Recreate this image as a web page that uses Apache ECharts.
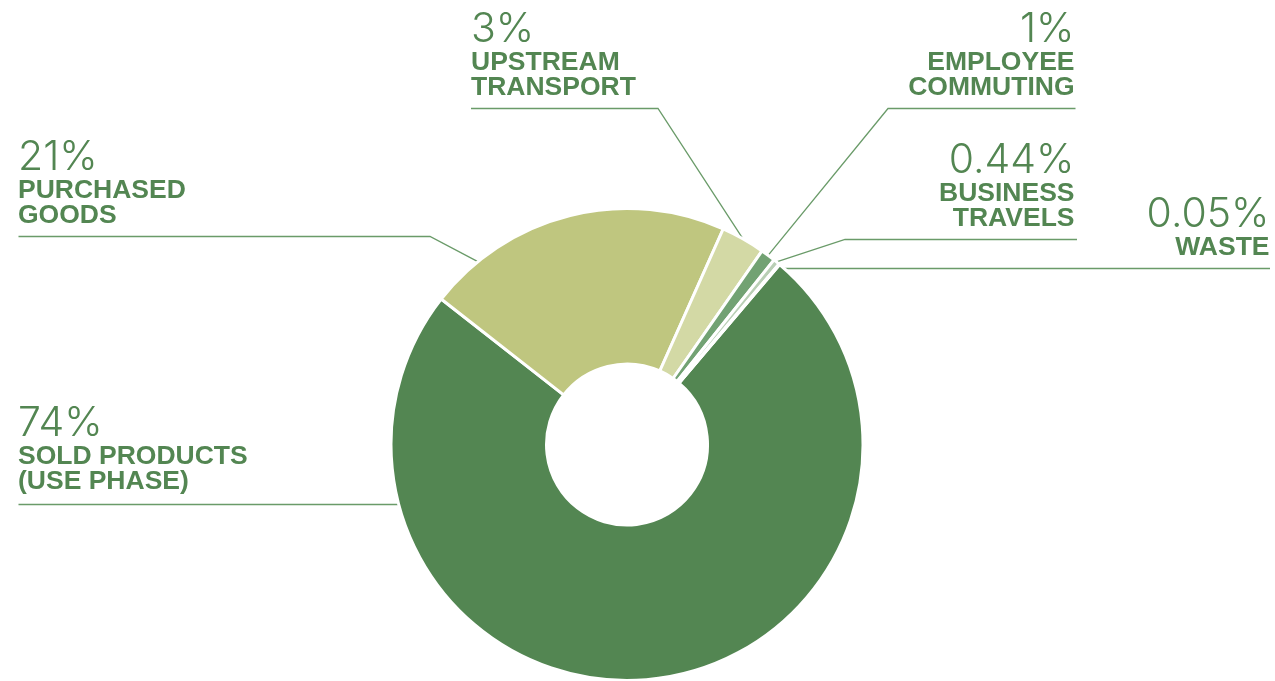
<!DOCTYPE html>
<html>
<head>
<meta charset="utf-8">
<script src="https://cdn.jsdelivr.net/npm/echarts@6/dist/echarts.min.js"></script>
<style>
  html, body { margin: 0; padding: 0; background: #ffffff; }
  #chart { width: 1275px; height: 681px; }
</style>
</head>
<body>
<div id="chart"></div>
<script>
// Emission categories and their share of the total footprint (%)
const categories = [
  'SOLD PRODUCTS\n(USE PHASE)',
  'PURCHASED\nGOODS',
  'UPSTREAM\nTRANSPORT',
  'EMPLOYEE\nCOMMUTING',
  'BUSINESS\nTRAVELS',
  'WASTE'
];
const shares = [74, 21, 3, 1, 0.44, 0.05];
const sliceColors = ['#538652', '#bfc67f', '#d3d9a5', '#72a273', '#b9cfb5', '#e2e9de'];

const TEXT_GREEN = '#538652';
const LINE_GREEN = '#6a9b69';
const CENTER = [627, 444.5];
const RADIUS = [80.5, 236];

// Callout placement: text x / alignment, underline y, bend x and far end of the underline.
// 'level' callouts run straight from the ring edge; 'clock' fixes the leader target (deg, clockwise from 12).
const labelSpots = [
  { x: 18,     align: 'left',  lineY: 504.5, endX: 18.5, level: true, gap: 10.5 },
  { x: 18,     align: 'left',  lineY: 236.5, endX: 18.5, bendX: 430, clock: 320.8 },
  { x: 471,    align: 'left',  lineY: 108.5, endX: 471,  bendX: 658 },
  { x: 1074.5, align: 'right', lineY: 108.5, endX: 1075.5, bendX: 888 },
  { x: 1074.5, align: 'right', lineY: 239.5, endX: 1077, bendX: 845 },
  { x: 1269.5, align: 'right', lineY: 268.5, endX: 1270, level: true }
];

const chart = echarts.init(document.getElementById('chart'), null, { renderer: 'canvas' });

function sliceGeometry(i) {
  try {
    return chart.getModel().getSeriesByIndex(0).getData().getItemLayout(i);
  } catch (e) {
    return null;
  }
}

function leaderAnchor(i, spot, fallback) {
  const g = sliceGeometry(i);
  const cx = g ? g.cx : CENTER[0];
  const cy = g ? g.cy : CENTER[1];
  const r = g ? g.r : RADIUS[1];
  if (spot.level) {
    const dy = spot.lineY - cy;
    const dx = Math.sqrt(Math.max(r * r - dy * dy, 0));
    return [spot.align === 'left' ? cx - dx : cx + dx, spot.lineY];
  }
  if (spot.clock != null) {
    const a = (spot.clock - 90) * Math.PI / 180;
    return [cx + r * Math.cos(a), cy + r * Math.sin(a)];
  }
  if (g) {
    const mid = (g.startAngle + g.endAngle) / 2;
    return [cx + r * Math.cos(mid), cy + r * Math.sin(mid)];
  }
  return fallback;
}

const option = {
  backgroundColor: '#ffffff',
  animation: false,
  series: [{
    type: 'pie',
    center: CENTER,
    radius: RADIUS,
    startAngle: 49.7,
    clockwise: true,
    avoidLabelOverlap: false,
    silent: true,
    data: categories.map((name, i) => ({
      name: name,
      value: shares[i],
      itemStyle: { color: sliceColors[i] }
    })),
    itemStyle: { borderColor: '#ffffff', borderWidth: 3 },
    label: {
      show: true,
      position: 'outside',
      overflow: 'none',
      formatter: (p) => {
        const lines = p.name.split('\n').map((t) => '{n|' + t + '}');
        return '{p|' + p.value + '%}\n' + lines.join('\n');
      },
      rich: {
        p: {
          fontFamily: 'Inter',
          fontWeight: 300,
          fontSize: 41,
          lineHeight: 40,
          color: TEXT_GREEN
        },
        n: {
          fontFamily: '"Liberation Sans", Arial, sans-serif',
          fontWeight: 'bold',
          fontSize: 26.5,
          lineHeight: 25,
          color: TEXT_GREEN
        }
      }
    },
    labelLine: {
      show: true,
      smooth: false,
      length: 10,
      length2: 10,
      lineStyle: { color: LINE_GREEN, width: 1.3 }
    },
    labelLayout: (params) => {
      const i = params.dataIndex;
      const spot = labelSpots[i];
      const def = params.labelLinePoints ? params.labelLinePoints[0] : CENTER;
      const anchor = leaderAnchor(i, spot, def);
      const bend = spot.bendX == null ? anchor : [spot.bendX, spot.lineY];
      return {
        x: spot.x,
        y: spot.lineY - (spot.gap != null ? spot.gap : 8.5),
        align: spot.align,
        verticalAlign: 'bottom',
        labelLinePoints: [anchor, bend, [spot.endX, spot.lineY]]
      };
    }
  }]
};

chart.setOption(option);
</script>
</body>
</html>
